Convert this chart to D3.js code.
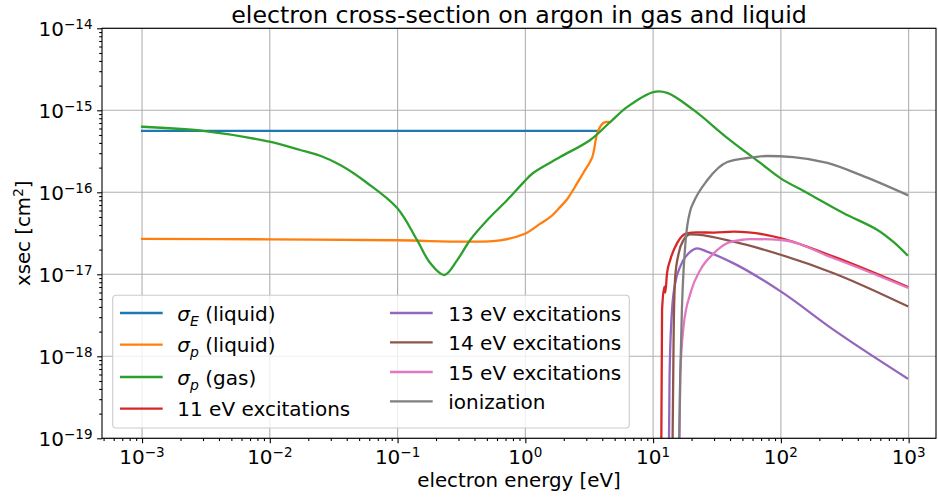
<!DOCTYPE html>
<html><head><meta charset="utf-8">
<script src="https://cdn.jsdelivr.net/npm/d3@7"></script>
<style>
body{margin:0;background:#fff}
text{font-family:"DejaVu Sans",sans-serif;fill:#000}
</style>
</head><body><svg id="c" width="938" height="498"></svg>
<script>
// ---------------- data (energy [eV], cross-section [cm^2]) ----------------
const sigmaELiquid = [[1e-3, 5.6e-16], [3.7, 5.6e-16]];
const sigmaPLiquid = [
  [1e-3, 2.7e-17], [0.01, 2.67e-17], [0.1, 2.6e-17], [0.35, 2.5e-17], [0.635, 2.6e-17],
  [0.98, 3.1e-17], [1.31, 4.15e-17], [1.57, 5.0e-17], [1.87, 6.6e-17], [2.13, 8.3e-17],
  [2.37, 1.07e-16], [2.55, 1.3e-16], [2.84, 1.72e-16], [3.34, 2.69e-16], [3.66, 5.28e-16],
  [4.07, 7.0e-16], [4.62, 7.2e-16]
];
const sigmaPGas = [
  [1e-3, 6.3e-16], [3e-3, 5.6e-16], [9.9e-3, 4.14e-16], [0.0173, 3.28e-16], [0.0248, 2.79e-16],
  [0.0356, 2.15e-16], [0.0578, 1.3e-16], [0.0993, 6.43e-17], [0.142, 2.62e-17], [0.18, 1.37e-17],
  [0.232, 9.8e-18], [0.293, 1.49e-17], [0.37, 2.62e-17], [0.504, 4.59e-17], [0.721, 8.05e-17],
  [0.98, 1.35e-16], [1.15, 1.72e-16], [1.87, 2.69e-16], [3.22, 4.35e-16], [4.62, 7.2e-16],
  [6.28, 1.1e-15], [10.05, 1.67e-15], [12.9, 1.63e-15], [20.7, 1.01e-15], [38.2, 4.59e-16],
  [69, 2.28e-16], [99, 1.49e-16], [161, 9.8e-17], [308, 5.6e-17], [570, 3.47e-17],
  [760, 2.48e-17], [973, 1.72e-17]
];
const exc11 = [
  [11.5, 1e-20], [11.75, 3.67e-18], [12.25, 7.06e-18], [12.45, 6.0e-18], [12.85, 1.03e-17],
  [13.6, 1.49e-17], [15.4, 2.4e-17], [18.3, 3.16e-17], [22.1, 3.25e-17], [30, 3.22e-17],
  [42.7, 3.31e-17], [78, 3.01e-17], [101, 2.75e-17], [259, 1.64e-17], [973, 7.06e-18]
];
const exc13 = [
  [13.15, 1e-20], [13.45, 5.6e-19], [14.06, 3.67e-18], [14.9, 7.8e-18], [16.3, 1.24e-17],
  [19.6, 1.89e-17], [22.1, 2.07e-17], [26.4, 1.89e-17], [42.7, 1.36e-17], [101, 6.1e-18],
  [259, 2.1e-18], [973, 5.4e-19]
];
const exc14 = [
  [14.0, 1e-20], [14.5, 2.3e-18], [14.9, 9.4e-18], [15.85, 1.8e-17], [17.3, 2.62e-17],
  [19.6, 3.08e-17], [22.1, 3.05e-17], [42.7, 2.5e-17], [101, 1.72e-17], [259, 1.03e-17],
  [973, 4.1e-18]
];
const exc15 = [
  [15.8, 1e-20], [16.3, 5.6e-19], [17.3, 2.3e-18], [19.6, 5.9e-18], [23.4, 1.13e-17],
  [29.8, 1.8e-17], [37.9, 2.39e-17], [48.2, 2.62e-17], [57.7, 2.69e-17], [101, 2.62e-17],
  [259, 1.57e-17], [973, 6.9e-18]
];
const ionization = [
  [15.6, 1e-20], [16.3, 5.6e-19], [16.8, 3.67e-18], [17.9, 2.39e-17], [19.6, 6.08e-17],
  [20.6, 7.4e-17], [26.6, 1.41e-16], [38.1, 2.34e-16], [54.7, 2.62e-16], [78.5, 2.77e-16],
  [125, 2.69e-16], [231, 2.28e-16], [419, 1.63e-16], [973, 9.3e-17]
];
const seriesLabels = ["σ_E (liquid)", "σ_p (liquid)", "σ_p (gas)", "11 eV excitations",
  "13 eV excitations", "14 eV excitations", "15 eV excitations", "ionization"];
const seriesColors = ["#1f77b4", "#ff7f0e", "#2ca02c", "#d62728", "#9467bd", "#8c564b", "#e377c2", "#7f7f7f"];
const seriesData = [sigmaELiquid, sigmaPLiquid, sigmaPGas, exc11, exc13, exc14, exc15, ionization];
const xTickExponents = [-3, -2, -1, 0, 1, 2, 3];
const yTickExponents = [-19, -18, -17, -16, -15, -14];
const xDomain = [4.86e-4, 1637];
const yDomain = [1e-19, 1e-14];
const titleText = "electron cross-section on argon in gas and liquid";
const xLabelText = "electron energy [eV]";

// ---------------- layout ----------------
const plot = {left: 102, right: 936, top: 28.3, bottom: 438.3};
const svg = d3.select("#c");
const x = d3.scaleLog().domain(xDomain).range([plot.left, plot.right]);
const y = d3.scaleLog().domain(yDomain).range([plot.bottom, plot.top]);

const xMajor = xTickExponents.map(e => Math.pow(10, e));
const yMajor = yTickExponents.map(e => Math.pow(10, e));
function minors(dom) {
  const out = [];
  const lo = Math.floor(Math.log10(dom[0])), hi = Math.ceil(Math.log10(dom[1]));
  for (let e = lo; e <= hi; e++) for (let m = 2; m <= 9; m++) {
    const v = m * Math.pow(10, e);
    if (v >= dom[0] && v <= dom[1]) out.push(v);
  }
  return out;
}

// grid
const grid = svg.append("g");
grid.selectAll("line.gx").data(xMajor).join("line")
  .attr("x1", d => x(d)).attr("x2", d => x(d)).attr("y1", plot.top).attr("y2", plot.bottom)
  .attr("stroke", "#b0b0b0").attr("stroke-width", 1.1);
grid.selectAll("line.gy").data(yMajor).join("line")
  .attr("y1", d => y(d)).attr("y2", d => y(d)).attr("x1", plot.left).attr("x2", plot.right)
  .attr("stroke", "#b0b0b0").attr("stroke-width", 1.1);

// clip
svg.append("clipPath").attr("id", "clip").append("rect")
  .attr("x", plot.left).attr("y", plot.top).attr("width", plot.right - plot.left).attr("height", plot.bottom - plot.top);

const smoothLine = d3.line().x(d => x(d[0])).y(d => y(d[1])).curve(d3.curveCatmullRom.alpha(0.5));
const stepLine = d3.line().x(d => x(d[0])).y(d => y(d[1])).curve(d3.curveMonotoneX);
const lines = svg.append("g").attr("clip-path", "url(#clip)");
seriesData.forEach((s, i) => {
  lines.append("path").datum(s).attr("d", i < 3 ? smoothLine : stepLine).attr("fill", "none")
    .attr("stroke", seriesColors[i]).attr("stroke-width", 2.3)
    .attr("stroke-linejoin", "round").attr("stroke-linecap", "square");
});

// axes
function styleAxis(g) { g.select(".domain").remove(); g.selectAll("line").attr("stroke", "#000").attr("stroke-width", 1.1); }
svg.append("g").attr("transform", `translate(0,${plot.bottom})`)
  .call(d3.axisBottom(x).tickValues(xMajor).tickSize(4.9).tickFormat("")).call(styleAxis);
svg.append("g").attr("transform", `translate(0,${plot.bottom})`)
  .call(d3.axisBottom(x).tickValues(minors(xDomain)).tickSize(2.8).tickFormat("")).call(styleAxis);
svg.append("g").attr("transform", `translate(${plot.left},0)`)
  .call(d3.axisLeft(y).tickValues(yMajor).tickSize(4.9).tickFormat("")).call(styleAxis);
svg.append("g").attr("transform", `translate(${plot.left},0)`)
  .call(d3.axisLeft(y).tickValues(minors(yDomain)).tickSize(2.8).tickFormat("")).call(styleAxis);

// frame
svg.append("rect").attr("x", plot.left).attr("y", plot.top)
  .attr("width", plot.right - plot.left).attr("height", plot.bottom - plot.top)
  .attr("fill", "none").attr("stroke", "#000").attr("stroke-width", 1.1);

// tick labels
const expStr = e => (e < 0 ? "\u2212" : "") + Math.abs(e);
xTickExponents.forEach(e => {
  const t = svg.append("text").attr("x", x(Math.pow(10, e))).attr("y", 464)
    .attr("text-anchor", "middle").attr("font-size", 20);
  t.append("tspan").text("10");
  t.append("tspan").attr("dy", -7.5).attr("font-size", 13.5).text(expStr(e));
});
yTickExponents.forEach(e => {
  const t = svg.append("text").attr("x", 92.5).attr("y", y(Math.pow(10, e)) + 8)
    .attr("text-anchor", "end").attr("font-size", 20);
  t.append("tspan").text("10");
  t.append("tspan").attr("dy", -7.5).attr("font-size", 13.5).text(expStr(e));
});

// title and axis labels
svg.append("text").attr("x", (plot.left + plot.right) / 2).attr("y", 22.5)
  .attr("text-anchor", "middle").attr("font-size", 23.7).text(titleText);
svg.append("text").attr("x", (plot.left + plot.right) / 2).attr("y", 487)
  .attr("text-anchor", "middle").attr("font-size", 19.8).text(xLabelText);
const yl = svg.append("text").attr("transform", `translate(29.5,${(plot.top + plot.bottom) / 2}) rotate(-90)`)
  .attr("text-anchor", "middle").attr("font-size", 19.8);
yl.append("tspan").text("xsec [cm");
yl.append("tspan").attr("dy", -7).attr("font-size", 13.5).text("2");
yl.append("tspan").attr("dy", 7).text("]");

// legend
const leg = svg.append("g");
leg.append("rect").attr("x", 112.7).attr("y", 295.3).attr("width", 516.6).attr("height", 132.7)
  .attr("rx", 3.5).attr("fill", "#fff").attr("fill-opacity", 0.8).attr("stroke", "#cccccc").attr("stroke-width", 1.1);
const legCols = [{lx: 120, tx: 177.3, rows: [313, 344.7, 377, 408.7]},
                 {lx: 390, tx: 448.3, rows: [313, 342.3, 372, 401.3]}];
seriesLabels.forEach((lab, i) => {
  const col = legCols[Math.floor(i / 4)], ry = col.rows[i % 4];
  leg.append("line").attr("x1", col.lx).attr("x2", col.lx + 42.7).attr("y1", ry).attr("y2", ry)
    .attr("stroke", seriesColors[i]).attr("stroke-width", 2.3);
  const t = leg.append("text").attr("x", col.tx).attr("y", ry + 7.5).attr("font-size", 20);
  const m = lab.match(/^σ_(\w)(.*)$/);
  if (m) {
    t.append("tspan").attr("font-style", "italic").text("σ");
    t.append("tspan").attr("font-style", "italic").attr("font-size", 14).attr("dy", 5).text(m[1]);
    t.append("tspan").attr("dy", -5).text(m[2]);
  } else {
    t.text(lab);
  }
});
</script>
</body></html>
